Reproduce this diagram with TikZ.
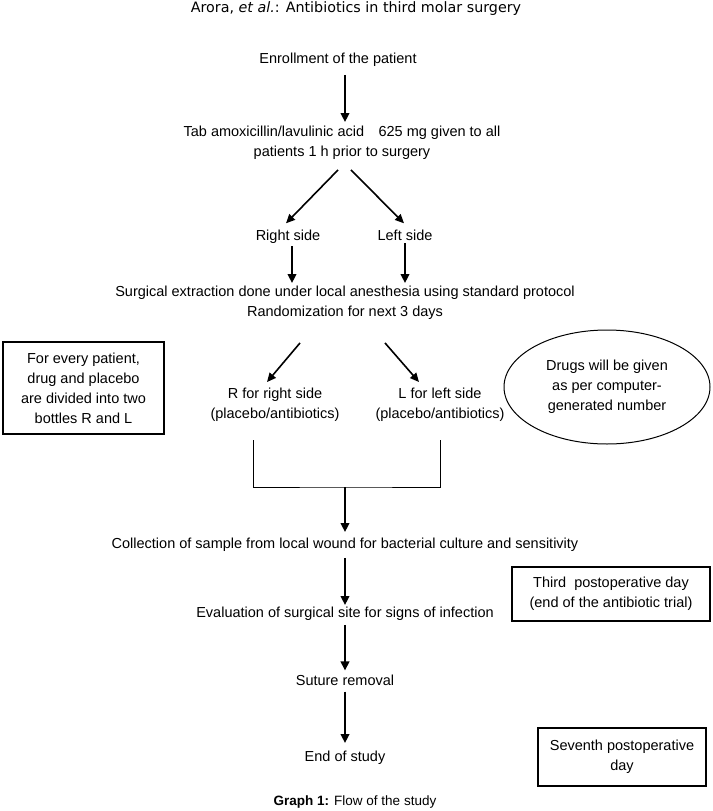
\documentclass[tikz,border=0pt]{standalone}
\usepackage{fontspec}
\setmainfont{Liberation Sans}
\newfontfamily\hdrfont{DejaVu Sans}
\usetikzlibrary{arrows.meta,shapes.geometric}
\begin{document}
\begin{tikzpicture}[x=1pt,y=-1pt,
  txt/.style={inner sep=0pt,align=center,font=\fontsize{14.5}{20}\selectfont},
  arr/.style={line width=2.2pt,-{Triangle[length=9pt,width=8.5pt]}},
  darr/.style={line width=1.6pt,-{Triangle[length=9pt,width=8pt]}},
  boxed/.style={txt,draw,line width=1.6pt},
  thinline/.style={line width=1pt}]
\useasboundingbox (0,0) rectangle (712,811);
\node[inner sep=0pt,font=\hdrfont\fontsize{14.3}{16}\selectfont] (hdr) at (356,9) {Arora, \textit{et al.}: Antibiotics in third molar surgery};
\node[txt] (enr) at (338,60) {Enrollment of the patient};
\node[txt] (tab) at (342,143) {Tab amoxicillin/lavulinic acid\quad 625 mg given to all\\patients 1 h prior to surgery};
\node[txt,anchor=base] (rs) at (288,240) {Right side};
\node[txt,anchor=base] (ls) at (405,240) {Left side};
\node[txt] (surg) at (345,303) {Surgical extraction done under local anesthesia using standard protocol\\Randomization for next 3 days};
\node[boxed,minimum width=161pt,minimum height=92pt] (lbox) at (83.5,388) {For every patient,\\drug and placebo\\are divided into two\\bottles R and L};
\node[txt] (rr) at (275,405) {R for right side\\(placebo/antibiotics)};
\node[txt] (ll) at (440,405) {L for left side\\(placebo/antibiotics)};
\node[txt,draw,ellipse,line width=1pt,minimum width=206pt,minimum height=114pt] (ell) at (607,387) {Drugs will be given\\as per computer-\\generated number};
\node[txt] (coll) at (345,545) {Collection of sample from local wound for bacterial culture and sensitivity};
\node[txt] (eval) at (345,614) {Evaluation of surgical site for signs of infection};
\node[boxed,minimum width=198pt,minimum height=54pt] (third) at (611,594) {Third\ \ postoperative day\\(end of the antibiotic trial)};
\node[txt] (sut) at (345,680) {Suture removal};
\node[txt] (endn) at (345,758) {End of study};
\node[boxed,minimum width=168pt,minimum height=58pt] (sev) at (622,757) {Seventh postoperative\\day};
\node[inner sep=0pt,font=\fontsize{13.5}{15}\selectfont] (cap) at (355,802) {\textbf{Graph 1:} Flow of the study};
% named points for connector ends
\coordinate (brL) at (253,440);
\coordinate (brR) at (440,440);
\coordinate (brM) at (345,487);
% connectors
\draw[arr] ([xshift=7pt,yshift=-8pt]enr.south) -- ([xshift=3pt,yshift=4pt]tab.north);
\draw[darr] ([xshift=-4pt,yshift=-10pt]tab.south) -- ([xshift=-2pt,yshift=6pt]rs.north);
\draw[darr] ([xshift=9pt,yshift=-10pt]tab.south) -- ([xshift=-1pt,yshift=6pt]ls.north);
\draw[arr] ([xshift=4pt,yshift=-3pt]rs.south) -- ([xshift=4pt,yshift=3pt]rs.south |- surg.north);
\draw[arr] ([yshift=-3pt]ls.south) -- ([yshift=3pt]ls.south |- surg.north);
\draw[darr] ([xshift=-45pt,yshift=-23pt]surg.south) -- ([xshift=-8pt,yshift=6pt]rr.north);
\draw[darr] ([xshift=40pt,yshift=-23pt]surg.south) -- ([xshift=-21pt,yshift=6pt]ll.north);
\draw[thinline] (brL) |- (brM) -| (brR);
\draw[arr] (brM) -- ([yshift=6pt]coll.north);
\draw[arr] ([yshift=-6pt]coll.south) -- ([yshift=2pt]eval.north);
\draw[arr] ([yshift=-4pt]eval.south) -- ([yshift=4pt]sut.north);
\draw[arr] ([yshift=-6pt]sut.south) -- ([yshift=8pt]endn.north);
\end{tikzpicture}
\end{document}
